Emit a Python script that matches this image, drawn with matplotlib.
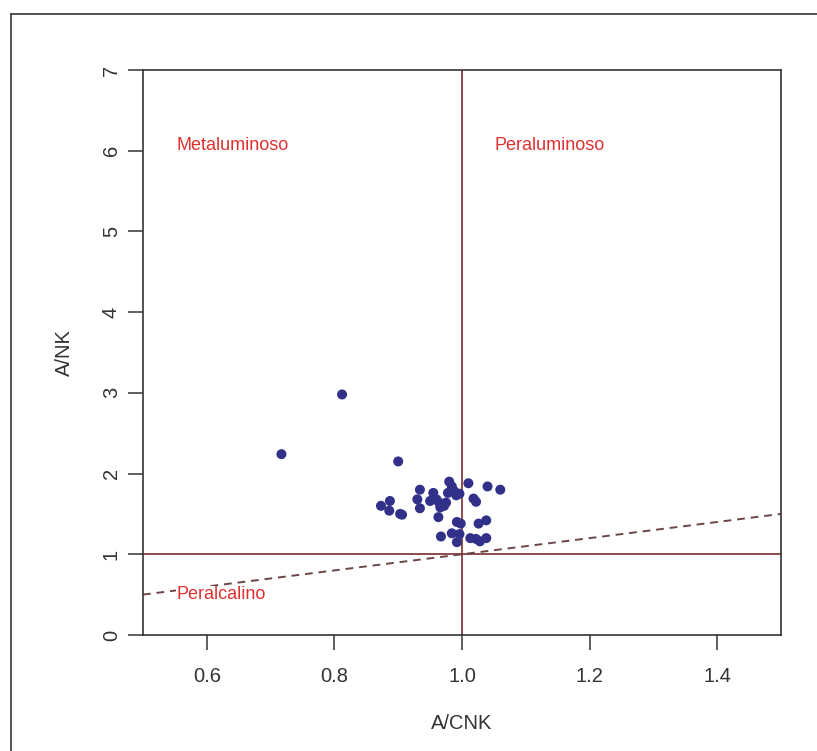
import matplotlib
matplotlib.use("Agg")
import matplotlib.pyplot as plt
from matplotlib.lines import Line2D

plt.rcParams['font.family'] = ['Liberation Sans', 'DejaVu Sans']

# A/CNK vs A/NK samples
acnk = [0.812, 0.717, 0.900,
        0.980, 0.984, 0.988, 0.991, 1.010, 1.040, 1.060,
        0.934, 0.955, 0.930, 0.950, 0.887, 0.873, 0.886, 0.903, 0.906,
        0.934, 0.964, 0.970, 0.975, 0.966, 0.963, 1.018, 1.022,
        0.992, 0.998, 1.026, 1.038, 0.967, 0.984, 0.996, 0.992,
        1.013, 1.022, 1.028, 1.038, 0.978, 0.996, 0.960, 0.972]
ank = [2.98, 2.24, 2.15,
       1.90, 1.84, 1.78, 1.73, 1.88, 1.84, 1.80,
       1.80, 1.76, 1.68, 1.66, 1.66, 1.60, 1.54, 1.50, 1.49,
       1.57, 1.64, 1.62, 1.64, 1.58, 1.46, 1.69, 1.65,
       1.40, 1.38, 1.38, 1.42, 1.22, 1.26, 1.25, 1.15,
       1.20, 1.19, 1.16, 1.20, 1.76, 1.75, 1.68, 1.60]

# dividing line y = x
ratio_line = [0.5, 1.5]

region_labels = ["Metaluminoso", "Peraluminoso", "Peralcalino"]
region_x = [0.553, 1.051, 0.553]
region_y = [6.07, 6.07, 0.50]

fig = plt.figure(figsize=(8.17, 7.51), dpi=100)
ax = fig.add_axes([0.175, 0.1545, 0.781, 0.7523])

ax.axvline(1.0, color='#7a2e2e', lw=1.2, zorder=1)
ax.axhline(1.0, color='#7a2e2e', lw=1.2, zorder=1)
ax.plot(ratio_line, ratio_line, color='#6e4545', lw=1.4, ls=(0, (4, 3)), zorder=1)

ax.scatter(acnk, ank, s=52, color='#31318a', edgecolors='none', zorder=3)

for lab, tx, ty in zip(region_labels, region_x, region_y):
    ax.text(tx, ty, lab, color='#e03030', fontsize=13, ha='left', va='center', zorder=2,
            bbox=dict(facecolor='white', edgecolor='none', pad=0.3))

ax.set_xlim(0.5, 1.5)
ax.set_ylim(0, 7)
ax.set_xticks([0.6, 0.8, 1.0, 1.2, 1.4])
ax.set_xticklabels(["0.6", "0.8", "1.0", "1.2", "1.4"])
ax.set_yticks(range(0, 8))
for lbl in ax.get_yticklabels():
    lbl.set_rotation(90)
    lbl.set_va('center')

ax.tick_params(axis='both', direction='out', length=11, width=1.1, color='#333333',
               labelsize=14.5, labelcolor='#333333')
ax.tick_params(axis='x', pad=12)
ax.tick_params(axis='y', pad=5)
for sp in ax.spines.values():
    sp.set_color('#333333')
    sp.set_linewidth(1.2)

ax.set_xlabel("A/CNK", fontsize=14.5, color='#333333', labelpad=20)
ax.set_ylabel("A/NK", fontsize=14.5, color='#333333', labelpad=20)

# outer frame (only left and top edges visible)
x0 = 11 / 817
y0 = 1 - 14 / 751
fig.add_artist(Line2D([x0, x0], [0, y0], transform=fig.transFigure, color='#444444', lw=1.3))
fig.add_artist(Line2D([x0, 1], [y0, y0], transform=fig.transFigure, color='#444444', lw=1.3))

fig.savefig("out.png", dpi=100)
